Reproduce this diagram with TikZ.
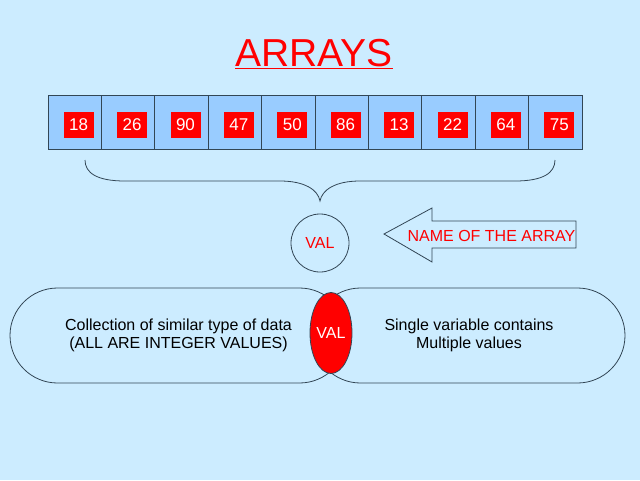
\documentclass[tikz,border=0pt]{standalone}
\usepackage{fontspec}
\setmainfont{Liberation Sans}
\usetikzlibrary{shapes.misc,shapes.geometric}
\definecolor{bgblue}{RGB}{204,236,255}
\definecolor{cellblue}{RGB}{153,204,255}
\definecolor{outl}{RGB}{50,70,85}
\definecolor{pred}{RGB}{255,0,0}
\tikzset{
  cellbox/.style={draw=outl, line width=0.8pt, fill=cellblue, minimum width=53.4pt, minimum height=53.5pt, inner sep=0pt, outer sep=0pt},
  numbox/.style={fill=pred, text=white, minimum width=30pt, minimum height=26pt, inner sep=0pt, font=\fontsize{17}{19}\selectfont},
  shapeline/.style={draw=outl, line width=0.8pt},
  stadium/.style={shapeline, rounded rectangle, minimum height=95pt, inner sep=0pt, align=center, font=\fontsize{16}{18}\selectfont},
}
\begin{document}
\begin{tikzpicture}[x=1pt,y=-1pt]
\fill[bgblue] (0,0) rectangle (640,480);
\useasboundingbox (0,0) rectangle (640,480);
% title
\node[anchor=base, text=pred, inner sep=0pt, font=\fontsize{39}{42}\selectfont] (title) at (314,66.7) {\underline{ARRAYS}};
% array cells
\foreach \v [count=\i from 0] in {18,26,90,47,50,86,13,22,64,75}{
  \node[cellbox] (c\i) at ({48+53.4*(\i+0.5)},122.5) {};
  \node[numbox] (n\i) at ({52+53.4*(\i+0.5)},125) {\v};
}
% brace
\coordinate (bl) at (85,160);
\coordinate (br) at (555,160);
\coordinate (bt) at (320,201);
\draw[shapeline] (bl) .. controls (85,173) and (97,181) .. (125,181) -- (280,181)
   .. controls (305,181) and (318,190) .. (bt)
   .. controls (322,190) and (335,181) .. (360,181) -- (515,181)
   .. controls (543,181) and (555,173) .. (br);
% circle VAL
\node[shapeline, circle, minimum size=58pt, inner sep=0pt, text=pred, font=\fontsize{16}{18}\selectfont] (val) at (320,243) {VAL};
% arrow
\draw[shapeline, fill=bgblue] (384,234) -- (432,208) -- (432,221) -- (576,221) -- (576,248) -- (432,248) -- (432,262) -- cycle;
\node[text=pred, inner sep=0pt, font=\fontsize{16}{18}\selectfont] (name) at (491.5,236) {NAME OF THE ARRAY};
% stadiums
\node[stadium, minimum width=337pt] (left) at (178.5,335.5) {Collection of similar type of data\\ (ALL ARE INTEGER VALUES)};
\node[stadium, minimum width=312pt] (right) at (469,335.5) {Single variable contains\\Multiple values};
% red ellipse
\node[shapeline, ellipse, fill=pred, minimum width=42pt, minimum height=81pt, inner sep=0pt, text=white, font=\fontsize{16}{18}\selectfont] (val2) at (331,333) {VAL};
\end{tikzpicture}
\end{document}
